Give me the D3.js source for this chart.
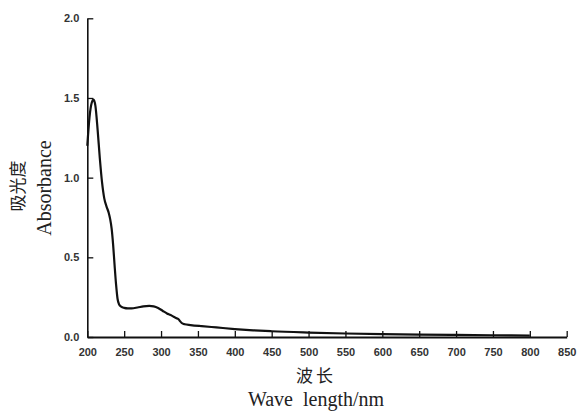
<!DOCTYPE html>
<html><head><meta charset="utf-8">
<script src="https://cdn.jsdelivr.net/npm/d3@7"></script>
<style>
html,body{margin:0;padding:0;background:#fff;}
svg{display:block;}
</style>
</head><body>
<svg id="chart" width="578" height="411"></svg>
<script>
const wavelength = [200,203,206,208.5,211,214,217,220,223,226,229,231,233,235,237,239,241,243,246,250,255,260,268,276,284,290,296,302,308,313,317,321,324,326,328,332,340,355,375,400,425,450,500,550,600,650,700,750,800];
const absorbance = [1.20,1.38,1.47,1.49,1.45,1.30,1.12,0.97,0.87,0.82,0.78,0.74,0.68,0.58,0.45,0.33,0.24,0.205,0.19,0.183,0.18,0.18,0.185,0.192,0.195,0.192,0.182,0.165,0.148,0.138,0.127,0.118,0.11,0.098,0.088,0.08,0.075,0.068,0.06,0.05,0.042,0.036,0.028,0.022,0.018,0.015,0.013,0.011,0.009];
const xTicks = [200,250,300,350,400,450,500,550,600,650,700,750,800,850];
const yTicks = [0.0,0.5,1.0,1.5,2.0];
const xTitleCn = "波长", xTitleEn = "Wave  length/nm";
const yTitleCn = "吸光度", yTitleEn = "Absorbance";

const svg = d3.select("#chart");
const x = d3.scaleLinear().domain([200,850]).range([87.3,566.7]);
const y = d3.scaleLinear().domain([0,2]).range([337,18.3]);

const tickFont = "Liberation Sans, Arial, sans-serif";

// x axis
const xAxis = svg.append("g").attr("transform","translate(0,337)")
  .call(d3.axisBottom(x).tickValues(xTicks).tickSize(-6).tickPadding(11).tickSizeOuter(0).tickFormat(d3.format("d")));
xAxis.select(".domain").attr("stroke","#111").attr("stroke-width",2);
xAxis.selectAll(".tick line").attr("stroke","#111").attr("stroke-width",1.3);
xAxis.selectAll(".tick text").attr("font-family",tickFont).attr("font-size",11).attr("font-weight","bold").attr("fill","#333");

// y axis
const yAxis = svg.append("g").attr("transform","translate(87.3,0)")
  .call(d3.axisLeft(y).tickValues(yTicks).tickSize(-6).tickPadding(8).tickSizeOuter(0).tickFormat(d3.format(".1f")));
yAxis.select(".domain").attr("stroke","#111").attr("stroke-width",1.6);
yAxis.selectAll(".tick line").attr("stroke","#111").attr("stroke-width",1.3);
yAxis.selectAll(".tick text").attr("font-family",tickFont).attr("font-size",11).attr("font-weight","bold").attr("fill","#333");

// curve
const pts = wavelength.map((w,i)=>[w,absorbance[i]]);
svg.append("path").datum(pts)
  .attr("fill","none").attr("stroke","#111").attr("stroke-width",2.2).attr("stroke-linejoin","round")
  .attr("d", d3.line().x(d=>x(d[0])).y(d=>y(d[1])).curve(d3.curveMonotoneX));

// x titles
svg.append("text").attr("x",316).attr("y",382).attr("text-anchor","middle")
  .attr("font-family","Noto Sans CJK SC, sans-serif").attr("font-size",17).attr("letter-spacing",3).attr("fill","#222").text(xTitleCn);
svg.append("text").attr("x",316).attr("y",406).attr("text-anchor","middle").style("white-space","pre")
  .attr("font-family","Liberation Serif, Times New Roman, serif").attr("font-size",20).attr("fill","#222").text(xTitleEn);

// y titles
svg.append("text").attr("transform","translate(24,186) rotate(-90)").attr("text-anchor","middle")
  .attr("font-family","Noto Sans CJK SC, sans-serif").attr("font-size",17).attr("fill","#222").text(yTitleCn);
svg.append("text").attr("transform","translate(51,188) rotate(-90)").attr("text-anchor","middle")
  .attr("font-family","Liberation Serif, Times New Roman, serif").attr("font-size",20).attr("fill","#222").text(yTitleEn);
</script>
</body></html>
